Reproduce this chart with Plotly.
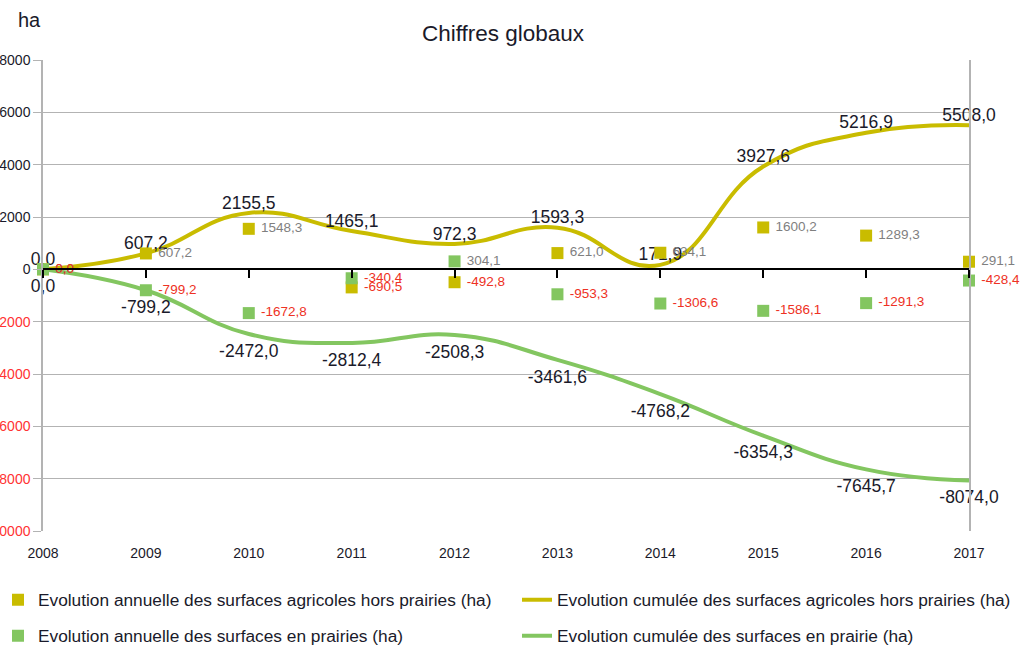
import math
import plotly.graph_objects as go

years = [2008, 2009, 2010, 2011, 2012, 2013, 2014, 2015, 2016, 2017]
annual_agri = [0.0, 607.2, 1548.3, -690.5, -492.8, 621.0, 634.1, 1600.2, 1289.3, 291.1]
cumul_agri = [0.0, 607.2, 2155.5, 1465.1, 972.3, 1593.3, 171.9, 3927.6, 5216.9, 5508.0]
annual_prairie = [-0.0, -799.2, -1672.8, -340.4, 304.1, -953.3, -1306.6, -1586.1, -1291.3, -428.4]
cumul_prairie = [0.0, -799.2, -2472.0, -2812.4, -2508.3, -3461.6, -4768.2, -6354.3, -7645.7, -8074.0]
y_ticks = [-10000, -8000, -6000, -4000, -2000, 0, 2000, 4000, 6000, 8000]

YELLOW = "#c9bc00"
GREEN = "#83c660"
FONT = "Liberation Sans"
DARK = "#1a1a2a"
RED = "#ee3124"
GRAY = "#7f7f7f"

# plot-area geometry in page pixels
PL, PR, PT, PB = 43, 969, 60, 531
W, H = 1021, 649
PW, PH = PR - PL, PB - PT


def fmt(v):
    return f"{v + 0.0:.1f}".replace(".", ",")


def ann_colors(vals):
    return [RED if math.copysign(1, v) < 0 else GRAY for v in vals]


def px_x(x):
    return (x - PL) / PW


def px_y(y):
    return (PB - y) / PH


fig = go.Figure()

fig.add_trace(go.Scatter(
    x=years, y=cumul_agri, mode="lines+text", line=dict(color=YELLOW, width=4, shape="spline", smoothing=1.3),
    text=[fmt(v) for v in cumul_agri], textposition="top center",
    textfont=dict(family=FONT, size=17.5, color=DARK), cliponaxis=False,
    name="Evolution cumulée des surfaces agricoles hors prairies (ha)", legend="legend2"))
fig.add_trace(go.Scatter(
    x=years, y=cumul_prairie, mode="lines+markers+text",
    line=dict(color=GREEN, width=4, shape="spline", smoothing=1.3),
    marker=dict(size=14, color="rgba(0,0,0,0)", line=dict(width=0)),
    text=[fmt(v) for v in cumul_prairie], textposition="bottom center",
    textfont=dict(family=FONT, size=17.5, color=DARK), cliponaxis=False,
    name="Evolution cumulée des surfaces en prairie (ha)", legend="legend4"))
fig.add_trace(go.Scatter(
    x=years, y=annual_agri, mode="markers+text", marker=dict(symbol="square", size=12, color=YELLOW),
    text=[" " + fmt(v) for v in annual_agri], textposition="middle right",
    textfont=dict(family=FONT, size=13.5, color=ann_colors(annual_agri)), cliponaxis=False,
    name="Evolution annuelle des surfaces agricoles hors prairies (ha)", legend="legend"))
fig.add_trace(go.Scatter(
    x=years, y=annual_prairie, mode="markers+text", marker=dict(symbol="square", size=12, color=GREEN),
    text=[" " + fmt(v) for v in annual_prairie], textposition="middle right",
    textfont=dict(family=FONT, size=13.5, color=ann_colors(annual_prairie)), cliponaxis=False,
    name="Evolution annuelle des surfaces en prairies (ha)", legend="legend3"))

# invisible trace to host the zero-crossing category axis
fig.add_trace(go.Scatter(x=[years[0]], y=[0], xaxis="x2", mode="markers",
                         marker=dict(opacity=0), showlegend=False, hoverinfo="skip"))

ymin, ymax = y_ticks[0], y_ticks[-1]
zero_pos = (0 - ymin) / (ymax - ymin)

ticktext = [(f'<span style="color:#ff3333">{v}</span>' if v < 0 else str(v)) for v in y_ticks]


def leg(x_text_px, y_px):
    return dict(orientation="h", x=px_x(x_text_px - 40), xanchor="left", y=px_y(y_px), yanchor="middle",
                font=dict(family=FONT, size=17.3, color=DARK), bgcolor="rgba(0,0,0,0)",
                borderwidth=0)


fig.update_layout(
    width=W, height=H,
    margin=dict(l=PL, r=W - PR, t=PT, b=H - PB, autoexpand=False),
    paper_bgcolor="white", plot_bgcolor="white",
    font=dict(family=FONT, color=DARK),
    title=dict(text="Chiffres globaux", x=px_x(503), xanchor="center", xref="paper",
               y=1 - 33 / H, yanchor="middle",
               font=dict(family=FONT, size=22.5, color=DARK)),
    xaxis=dict(range=[years[0], years[-1]], tickvals=years, ticktext=[str(y) for y in years],
               showgrid=False, zeroline=False, showline=False, ticks="", ticklabelstandoff=12,
               tickfont=dict(family=FONT, size=14, color=DARK), automargin=False),
    xaxis2=dict(range=[years[0], years[-1]], overlaying="x", anchor="free", position=zero_pos,
                side="bottom", tickvals=years, showticklabels=False, ticks="outside", ticklen=8,
                tickwidth=2, tickcolor="black", showline=True, linecolor="black", linewidth=1.5,
                showgrid=False, zeroline=False, automargin=False),
    yaxis=dict(range=[ymin, ymax], tickvals=y_ticks, ticktext=ticktext,
               showgrid=True, gridcolor="#b3b3b3", gridwidth=1, zeroline=False,
               showline=True, linecolor="#b3b3b3", linewidth=1.5, mirror=True,
               ticks="outside", ticklen=8, tickcolor="#b3b3b3",
               tickfont=dict(family=FONT, size=14, color=DARK), automargin=False),
    legend=leg(38, 600),
    legend2=leg(557, 600),
    legend3=leg(38, 636),
    legend4=leg(557, 636),
    annotations=[dict(text="ha", xref="paper", yref="paper", x=px_x(29), y=px_y(20),
                      showarrow=False, font=dict(family=FONT, size=20, color=DARK),
                      xanchor="center", yanchor="middle")],
    showlegend=True,
)

fig.write_html("out.html", config={"displayModeBar": False},
               post_script="document.body.style.margin='0px';")
